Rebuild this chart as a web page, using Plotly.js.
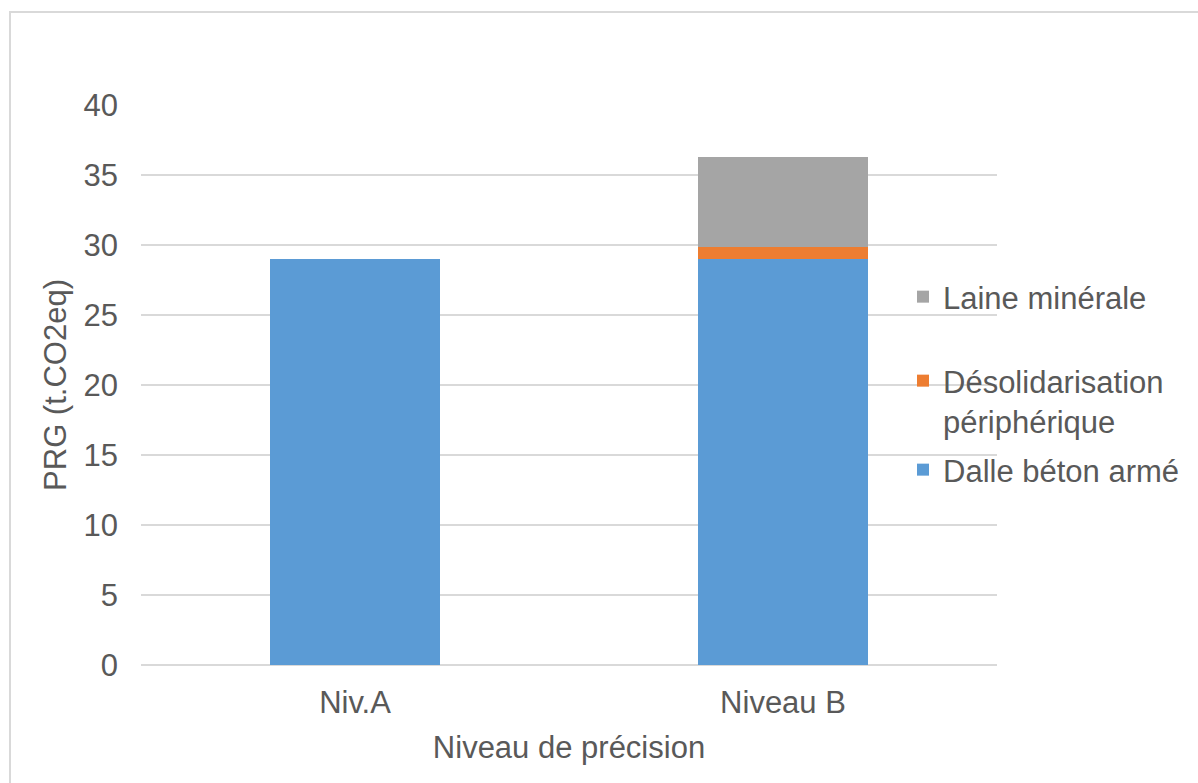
<!DOCTYPE html>
<html>
<head>
<meta charset="utf-8">
<script src="https://cdn.plot.ly/plotly-3.0.1.min.js"></script>
<style>
html, body { margin: 0; padding: 0; background: #fff; overflow: hidden; }
#chart { width: 1198px; height: 783px; }
#frame { position: absolute; left: 9px; top: 11px; width: 1300px; height: 900px; border: 2px solid #d9d9d9; pointer-events: none; }
</style>
</head>
<body>
<div id="chart"></div>
<div id="frame"></div>
<script>
const categories = ["Niv.A", "Niveau B"];
const dalleBeton = [29.0, 29.0];
const desolidarisation = [0, 0.87];
const laineMinerale = [0, 6.4];
const seriesNames = ["Dalle béton armé", "Désolidarisation<br>périphérique", "Laine minérale"];
const yTicks = [0, 5, 10, 15, 20, 25, 30, 35, 40];

const FONT = "Liberation Sans, Arial, sans-serif";
const TXT = "#595959";
const FS = 31;

const traces = [
  { type: "bar", x: categories, y: dalleBeton, name: seriesNames[0],
    marker: { color: "#5B9BD5" }, legend: "legend3", hoverinfo: "y+name" },
  { type: "bar", x: categories, y: desolidarisation, name: seriesNames[1],
    marker: { color: "#ED7D31" }, legend: "legend2", hoverinfo: "y+name" },
  { type: "bar", x: categories, y: laineMinerale, name: seriesNames[2],
    marker: { color: "#A5A5A5" }, legend: "legend", hoverinfo: "y+name" }
];

const legendBase = {
  font: { family: FONT, size: FS, color: TXT },
  bgcolor: "rgba(0,0,0,0)",
  borderwidth: 0,
  xref: "container",
  yref: "container",
  xanchor: "left",
  yanchor: "middle",
  itemwidth: 30
};

const layout = {
  width: 1198,
  height: 783,
  paper_bgcolor: "#ffffff",
  plot_bgcolor: "#ffffff",
  margin: { l: 141, r: 201, t: 105, b: 118, autoexpand: false },
  barmode: "stack",
  bargap: 0.603,
  font: { family: FONT, size: FS, color: TXT },
  xaxis: {
    type: "category",
    range: [-0.5, 1.5],
    showline: false,
    showgrid: false,
    zeroline: false,
    ticks: "",
    ticklabelstandoff: 16,
    tickfont: { family: FONT, size: FS, color: TXT },
    title: { text: "Niveau de précision", font: { family: FONT, size: FS, color: TXT }, standoff: 17 }
  },
  yaxis: {
    range: [0, 40],
    tickvals: yTicks,
    ticktext: yTicks.map(String),
    showgrid: true,
    gridcolor: "#D9D9D9",
    gridwidth: 1.5,
    zeroline: true,
    zerolinecolor: "#D9D9D9",
    zerolinewidth: 1.5,
    showline: false,
    ticks: "",
    ticklabelstandoff: 22,
    tickfont: { family: FONT, size: FS, color: TXT },
    title: { text: "PRG (t.CO2eq)", font: { family: FONT, size: FS, color: TXT }, standoff: 7 }
  },
  legend: Object.assign({}, legendBase, { x: 903 / 1198, y: 1 - 297 / 783 }),
  legend2: Object.assign({}, legendBase, { x: 903 / 1198, y: 1 - 401 / 783, valign: "top" }),
  legend3: Object.assign({}, legendBase, { x: 903 / 1198, y: 1 - 470 / 783 }),
  showlegend: true
};

Plotly.newPlot("chart", traces, layout, { displayModeBar: false, staticPlot: true });
</script>
</body>
</html>
